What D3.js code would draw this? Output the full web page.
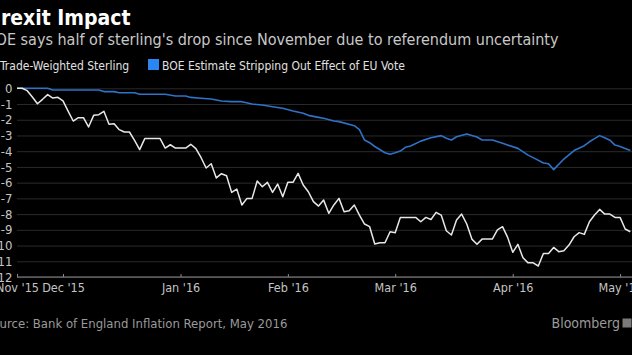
<!DOCTYPE html>
<html>
<head>
<meta charset="utf-8">
<script src="https://cdn.jsdelivr.net/npm/d3@7"></script>
<style>
  html, body { margin: 0; padding: 0; background: #000; overflow: hidden; }
  svg { display: block; }
</style>
</head>
<body>
<script>
// ---------------- data ----------------
const startDate = "2015-11-18";
const endDate = "2016-05-04";

// Trade-weighted sterling, % change since 18 Nov 2015, one value per business day
const sterlingValues = [
  0, 0, -0.15, -0.55, -0.98, -0.7, -0.4, -0.62, -0.57, -0.8,
  -1.45, -2.08, -1.87, -1.87, -2.46, -1.72, -1.68, -1.46, -2.29, -2.25,
  -2.63, -2.78, -2.78, -3.31, -3.9, -3.2, -3.2, -3.2, -3.2, -3.8,
  -3.59, -3.8, -3.8, -3.8, -3.56, -3.84, -4.4, -5.07, -4.8, -5.7,
  -5.43, -5.56, -6.62, -6.41, -7.42, -7.0, -7.0, -5.9, -6.26, -5.98,
  -6.62, -6.09, -6.9, -5.98, -5.98, -5.41, -6.15, -6.58, -7.21, -7.49,
  -7.11, -7.95, -7.42, -7.0, -7.85, -7.79, -7.42, -8.06, -8.63, -8.8,
  -9.9, -9.82, -9.82, -9.12, -9.18, -8.21, -8.21, -8.21, -8.21, -8.49,
  -8.21, -8.34, -7.89, -8.06, -9.06, -9.33, -8.38, -8.0, -8.63, -9.59,
  -9.92, -9.59, -9.59, -9.59, -9.01, -8.8, -9.48, -10.43, -9.92, -10.78,
  -11.1, -11.1, -11.3, -10.5, -10.5, -10.12, -10.39, -10.33, -9.97, -9.44,
  -9.18, -9.29, -8.49, -8.06, -7.7, -8.0, -8.0, -8.21, -8.21, -8.95,
  -9.12
];

// BOE estimate stripping out effect of EU vote
const boeDates = [
  "2015-11-18","2015-11-26","2015-11-27","2015-12-10","2015-12-11","2015-12-15",
  "2015-12-16","2015-12-21","2015-12-22","2015-12-29","2015-12-31","2016-01-04",
  "2016-01-05","2016-01-07","2016-01-11","2016-01-13","2016-01-15","2016-01-19",
  "2016-01-21","2016-01-25","2016-01-27","2016-01-29","2016-02-02","2016-02-04",
  "2016-02-05","2016-02-09","2016-02-10","2016-02-12","2016-02-15","2016-02-18",
  "2016-02-19","2016-02-22","2016-02-23","2016-02-24","2016-02-26","2016-02-29",
  "2016-03-01","2016-03-02","2016-03-03","2016-03-04","2016-03-08","2016-03-10",
  "2016-03-14","2016-03-15","2016-03-16","2016-03-17","2016-03-21","2016-03-22",
  "2016-03-23","2016-03-24","2016-03-28","2016-03-30","2016-04-04","2016-04-06",
  "2016-04-07","2016-04-11","2016-04-12","2016-04-13","2016-04-15","2016-04-19",
  "2016-04-21","2016-04-22","2016-04-25","2016-04-26","2016-04-27","2016-04-28",
  "2016-04-29","2016-05-02","2016-05-04"
];
const boeValues = [
  0, 0, -0.11, -0.11, -0.21, -0.21,
  -0.28, -0.28, -0.38, -0.38, -0.49, -0.49,
  -0.58, -0.63, -0.68, -0.81, -0.85, -0.85,
  -1.0, -1.06, -1.17, -1.27, -1.44, -1.59,
  -1.72, -1.85, -1.91, -2.08, -2.12, -2.38,
  -2.63, -3.29, -3.46, -3.7, -4.1, -4.2,
  -4.1, -3.99, -3.75, -3.67, -3.36, -3.15,
  -3.01, -3.18, -3.29, -3.08, -2.91, -3.0,
  -3.1, -3.29, -3.29, -3.5, -3.82, -4.25,
  -4.41, -4.75, -4.8, -5.17, -4.5, -3.96,
  -3.65, -3.4, -3.2, -3.01, -3.15, -3.3,
  -3.61, -3.7, -3.95
];

const xTickDates = ["2015-11-18","2015-12-01","2016-01-01","2016-02-01","2016-03-01","2016-04-01","2016-05-02"];
const xTickLabels = ["Nov '15","Dec '15","Jan '16","Feb '16","Mar '16","Apr '16","May '16"];
const yTicks = [0, -1, -2, -3, -4, -5, -6, -7, -8, -9, -10, -11, -12];

const titleText = "Brexit Impact";
const subtitleText = "BOE says half of sterling's drop since November due to referendum uncertainty";
const seriesNames = ["Trade-Weighted Sterling", "BOE Estimate Stripping Out Effect of EU Vote"];
const sourceText = "Source: Bank of England Inflation Report, May 2016";

// ---------------- setup ----------------
const W = 632, H = 355;
const FONT = "'DejaVu Sans Condensed', 'DejaVu Sans', sans-serif";
const fmt = d3.utcFormat("%Y-%m-%d");
const parse = d3.utcParse("%Y-%m-%d");

// business-day calendar (chart x-axis skips weekends)
const bdays = d3.utcDay.range(parse(startDate), d3.utcDay.offset(parse(endDate), 1))
  .filter(d => d.getUTCDay() % 6 !== 0).map(fmt);
const bIndex = new Map(bdays.map((d, i) => [d, i]));

const svg = d3.select("body").append("svg").attr("width", W).attr("height", H)
  .style("background", "#000");

const left = 17, right = 630.3, plotRight = 632;
const x = d3.scaleLinear().domain([0, bdays.length - 1]).range([left, right]);
const y = d3.scaleLinear().domain([-12, 0]).range([277, 88.3]);

// gridlines
const grid = svg.append("g").attr("transform", `translate(${left},0)`)
  .call(d3.axisRight(y).tickValues(yTicks).tickSize(plotRight - left).tickFormat(""));
grid.select(".domain").remove();
grid.selectAll(".tick line").attr("stroke", "#2a2a2a").attr("stroke-width", 1);

// y labels
const yAx = svg.append("g").attr("transform", `translate(12.5,0)`)
  .call(d3.axisLeft(y).tickValues(yTicks).tickSize(0).tickPadding(0).tickFormat(d => String(d)));
yAx.select(".domain").remove();
yAx.selectAll("text").attr("fill", "#c4c4c4").style("font-family", FONT).style("font-size", "13px");

// x axis
const xAx = svg.append("g").attr("transform", `translate(0,${y(-12)})`)
  .call(d3.axisBottom(x).tickValues(xTickDates.map(d => bIndex.get(d)))
    .tickFormat((d, i) => xTickLabels[i]).tickSizeInner(-3).tickSizeOuter(0).tickPadding(6));
xAx.select(".domain").remove();
xAx.append("line").attr("x1", left).attr("x2", plotRight).attr("stroke", "#8a8a8a");
xAx.selectAll(".tick line").attr("stroke", "#8a8a8a");
xAx.selectAll("text").attr("fill", "#c4c4c4").style("font-family", FONT).style("font-size", "12.5px");

// lines
const line = d3.line().x(d => x(d[0])).y(d => y(d[1]));
const boeData = boeDates.map((d, i) => [bIndex.get(d), boeValues[i]]);
const sterData = sterlingValues.map((v, i) => [i, v]);

svg.append("path").datum(boeData).attr("d", line)
  .attr("fill", "none").attr("stroke", "#2f72c8").attr("stroke-width", 1.6)
  .attr("stroke-linejoin", "round");
svg.append("path").datum(sterData).attr("d", line)
  .attr("fill", "none").attr("stroke", "#e8e8e8").attr("stroke-width", 1.5)
  .attr("stroke-linejoin", "round");

// header
const x0 = -15;
svg.append("text").attr("x", -13.5).attr("y", 25).text(titleText)
  .attr("fill", "#fff").style("font-family", FONT).style("font-weight", "bold").style("font-size", "21px");
svg.append("text").attr("x", x0 + 1).attr("y", 45).text(subtitleText)
  .attr("fill", "#c8c8c8").style("font-family", FONT).style("font-size", "16px");

// legend
const leg = svg.append("g");
leg.append("rect").attr("x", x0).attr("y", 59).attr("width", 11).attr("height", 11).attr("fill", "#e8e8e8");
leg.append("text").attr("x", 0).attr("y", 70).text(seriesNames[0])
  .attr("fill", "#e0e0e0").style("font-family", FONT).style("font-size", "12px");
leg.append("rect").attr("x", 148).attr("y", 59).attr("width", 11).attr("height", 11).attr("fill", "#2a86f0");
leg.append("text").attr("x", 162).attr("y", 70).text(seriesNames[1])
  .attr("fill", "#e0e0e0").style("font-family", FONT).style("font-size", "12px");

// footer
svg.append("text").attr("x", x0).attr("y", 328).text(sourceText)
  .attr("fill", "#9a9a9a").style("font-family", FONT).style("font-size", "13px");
svg.append("text").attr("x", 620).attr("y", 328).attr("text-anchor", "end").text("Bloomberg")
  .attr("fill", "#9a9a9a").style("font-family", FONT).style("font-size", "14px");
svg.append("rect").attr("x", 622.5).attr("y", 318.5).attr("width", 9).attr("height", 9).attr("fill", "#7a7a7a");
</script>
</body>
</html>
